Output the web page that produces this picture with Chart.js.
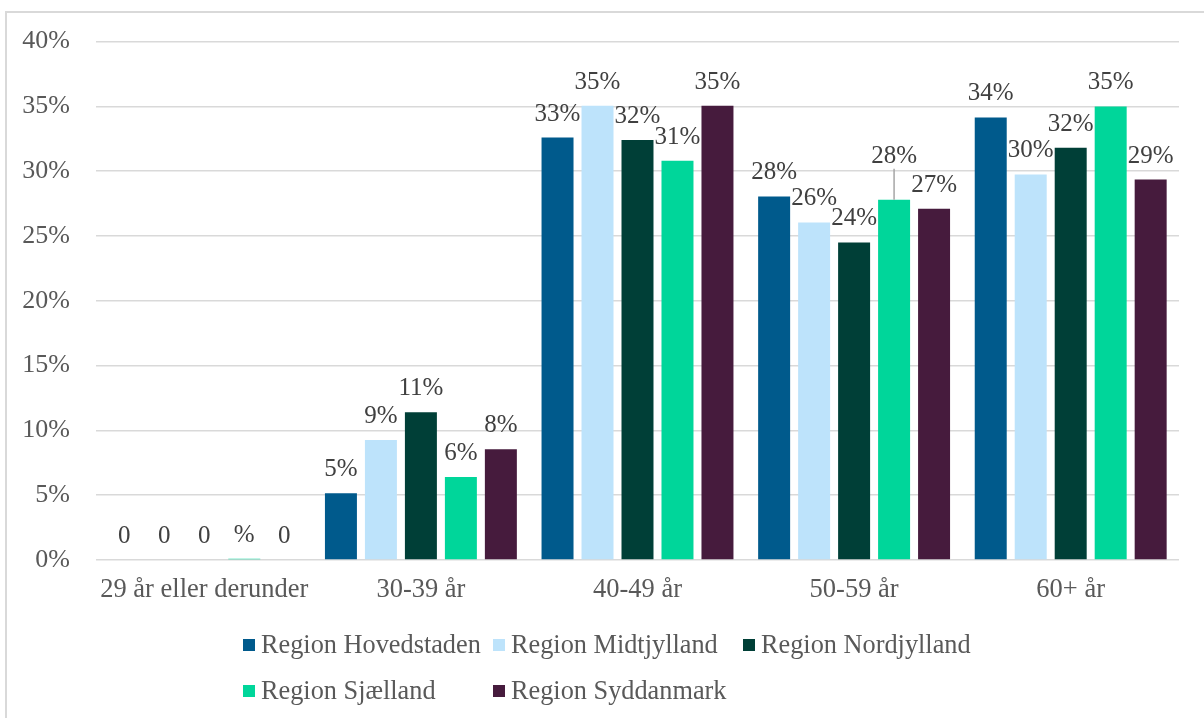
<!DOCTYPE html>
<html>
<head>
<meta charset="utf-8">
<script src="https://cdn.jsdelivr.net/npm/chart.js@4/dist/chart.umd.min.js"></script>
<style>
  html, body { margin: 0; padding: 0; background: #fff; }
  #wrap { position: relative; width: 1204px; height: 718px; overflow: hidden; }
  #frame { position: absolute; left: 5px; top: 11px; width: 1300px; height: 800px;
           border-left: 2px solid #d9d9d9; border-top: 2px solid #d9d9d9; box-sizing: border-box; }
  canvas { position: absolute; left: 0; top: 0; }
  #legend { position: absolute; left: 243px; top: 629px; width: 760px;
            display: grid; grid-template-columns: 250px 250px 260px; row-gap: 14px;
            font-family: "Liberation Serif", "Times New Roman", serif; font-size: 26.3px; color: #595959; }
  .item { display: flex; align-items: center; height: 32px; white-space: nowrap; }
  .box { width: 12px; height: 12px; margin-right: 6px; flex: none; }
</style>
</head>
<body>
<div id="wrap">
  <div id="frame"></div>
  <canvas id="c" width="1204" height="718"></canvas>
  <div id="legend"></div>
</div>
<script>
const categories = ["29 år eller derunder", "30-39 år", "40-49 år", "50-59 år", "60+ år"];
const seriesNames = ["Region Hovedstaden", "Region Midtjylland", "Region Nordjylland", "Region Sjælland", "Region Syddanmark"];
const hovedstaden = [0, 5.15, 32.6, 28.05, 34.15];
const midtjylland = [0, 9.25, 35.05, 26.05, 29.75];
const nordjylland = [0, 11.4, 32.4, 24.5, 31.8];
const sjaelland   = [0.1, 6.4, 30.8, 27.8, 35.0];
const syddanmark  = [0, 8.55, 35.05, 27.1, 29.35];
const labelsHovedstaden = ["0", "5%", "33%", "28%", "34%"];
const labelsMidtjylland = ["0", "9%", "35%", "26%", "30%"];
const labelsNordjylland = ["0", "11%", "32%", "24%", "32%"];
const labelsSjaelland   = ["%", "6%", "31%", "28%", "35%"];
const labelsSyddanmark  = ["0", "8%", "35%", "27%", "29%"];
const yTicks = [0, 5, 10, 15, 20, 25, 30, 35, 40];

const colors = ["#005A8C", "#BDE3FB", "#003F37", "#00D69A", "#461B3D"];
const valueSets = [hovedstaden, midtjylland, nordjylland, sjaelland, syddanmark];
const labelSets = [labelsHovedstaden, labelsMidtjylland, labelsNordjylland, labelsSjaelland, labelsSyddanmark];
const SERIF = '"Liberation Serif", "Times New Roman", serif';

const datasets = seriesNames.map((n, i) => ({
  label: n,
  data: valueSets[i],
  backgroundColor: colors[i],
  borderWidth: 0,
  barPercentage: 0.8,
  categoryPercentage: 0.923,
  valueLabels: labelSets[i]
}));

// Label raised with leader line: [datasetIndex, categoryIndex, extraLift]
const raised = [[3, 3, 20]];

const valueLabelPlugin = {
  id: 'valueLabels',
  afterDatasetsDraw(chart) {
    const ctx = chart.ctx;
    ctx.save();
    ctx.font = '25px ' + SERIF;
    ctx.fillStyle = '#404040';
    ctx.textAlign = 'center';
    ctx.textBaseline = 'alphabetic';
    chart.data.datasets.forEach((ds, di) => {
      const meta = chart.getDatasetMeta(di);
      meta.data.forEach((bar, ci) => {
        const txt = ds.valueLabels[ci];
        let lift = 0;
        raised.forEach(r => { if (r[0] === di && r[1] === ci) lift = r[2]; });
        const y = bar.y - 17 - lift;
        if (lift) {
          ctx.save();
          ctx.strokeStyle = '#a6a6a6';
          ctx.lineWidth = 1.5;
          ctx.beginPath();
          ctx.moveTo(bar.x, y + 6);
          ctx.lineTo(bar.x, bar.y);
          ctx.stroke();
          ctx.restore();
        }
        ctx.fillText(txt, bar.x, y);
      });
    });
    ctx.restore();
  }
};

new Chart(document.getElementById('c'), {
  type: 'bar',
  data: { labels: categories, datasets },
  plugins: [valueLabelPlugin],
  options: {
    responsive: false,
    animation: false,
    events: [],
    layout: { padding: { left: 0, right: 25, top: 41, bottom: 0 } },
    plugins: { legend: { display: false }, tooltip: { enabled: false } },
    scales: {
      x: {
        grid: { display: false, drawTicks: false },
        border: { display: false },
        ticks: { color: '#595959', font: { family: SERIF, size: 26.5 }, padding: 14, maxRotation: 0, autoSkip: false },
        afterFit(scale) { scale.height = 158; }
      },
      y: {
        min: 0, max: 40,
        afterBuildTicks(scale) { scale.ticks = yTicks.map(v => ({ value: v })); },
        grid: { color: '#d9d9d9', lineWidth: 1.5, drawTicks: false },
        border: { display: false },
        ticks: { color: '#595959', font: { family: SERIF, size: 26 }, padding: 26, callback: v => v + '%' },
        afterFit(scale) { scale.width = 96; }
      }
    }
  }
});

const legend = document.getElementById('legend');
seriesNames.forEach((n, i) => {
  const it = document.createElement('div');
  it.className = 'item';
  const b = document.createElement('span');
  b.className = 'box';
  b.style.background = colors[i];
  const t = document.createElement('span');
  t.textContent = n;
  it.appendChild(b); it.appendChild(t);
  legend.appendChild(it);
});
</script>
</body>
</html>
